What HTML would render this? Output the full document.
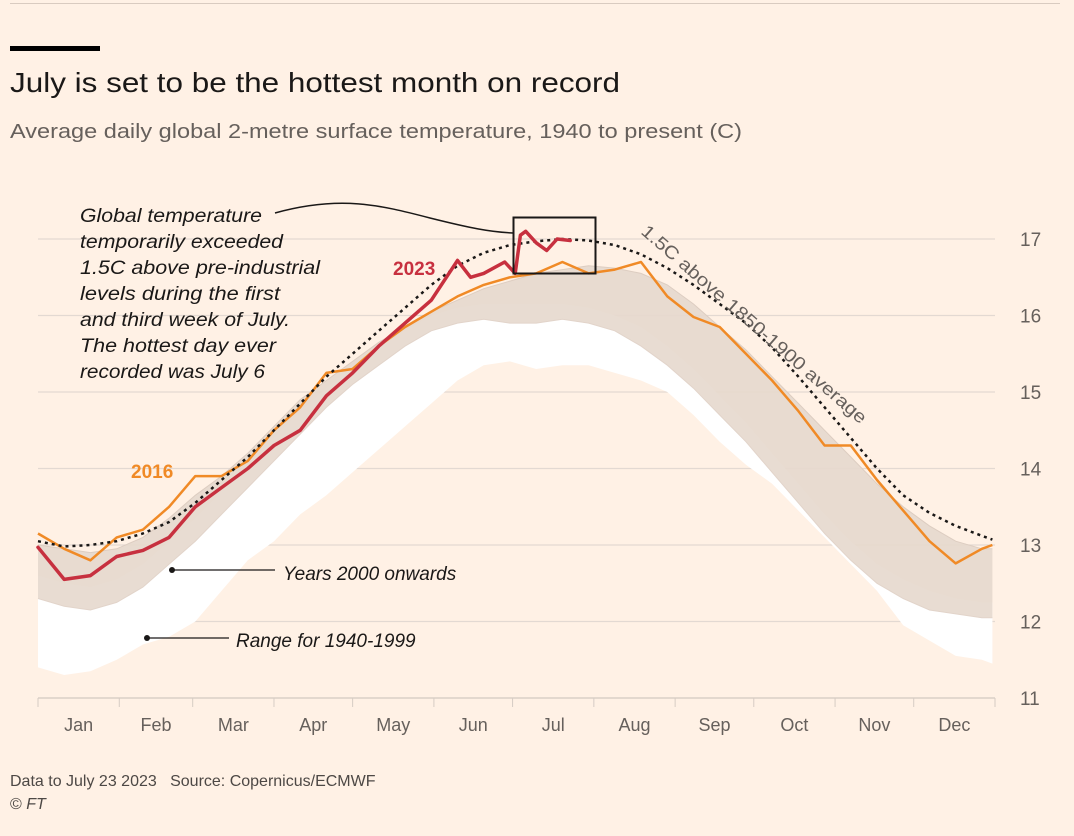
<!DOCTYPE html>
<html><head><meta charset="utf-8"><style>
html,body{margin:0;padding:0;background:#fff1e5;}
svg{display:block;font-family:"Liberation Sans",sans-serif;}
</style></head><body>
<svg width="1074" height="836" viewBox="0 0 1074 836" xmlns="http://www.w3.org/2000/svg">
<rect width="1074" height="836" fill="#fff1e5"/>
<line x1="10" y1="3.5" x2="1060" y2="3.5" stroke="#d9cbc0" stroke-width="1"/>
<rect x="10" y="46" width="90" height="5" fill="#000"/>
<text x="10" y="92" font-size="28" fill="#1a1817" textLength="610" lengthAdjust="spacingAndGlyphs">July is set to be the hottest month on record</text>
<text x="10" y="138" font-size="20" fill="#66605c" textLength="732" lengthAdjust="spacingAndGlyphs">Average daily global 2-metre surface temperature, 1940 to present (C)</text>
<g id="plot"></g>
<g font-style="italic" font-size="19" fill="#1a1817">
<text x="80" y="222" textLength="182" lengthAdjust="spacingAndGlyphs">Global temperature</text>
<text x="80" y="248" textLength="203" lengthAdjust="spacingAndGlyphs">temporarily exceeded</text>
<text x="80" y="274" textLength="240" lengthAdjust="spacingAndGlyphs">1.5C above pre-industrial</text>
<text x="80" y="300" textLength="200" lengthAdjust="spacingAndGlyphs">levels during the first</text>
<text x="80" y="326" textLength="210" lengthAdjust="spacingAndGlyphs">and third week of July.</text>
<text x="80" y="352" textLength="196" lengthAdjust="spacingAndGlyphs">The hottest day ever</text>
<text x="80" y="378" textLength="185" lengthAdjust="spacingAndGlyphs">recorded was July 6</text>
</g>
<path d="M275,213 C340,195 380,205 430,218 C470,228 490,232 513,233" fill="none" stroke="#1a1817" stroke-width="1.5"/>
<rect x="513.5" y="217.5" width="82" height="56" fill="none" stroke="#1a1817" stroke-width="2"/>
<text x="393" y="275" font-size="19" font-weight="bold" fill="#c7303f">2023</text>
<text x="131" y="478" font-size="19" font-weight="bold" fill="#f08a26">2016</text>
<circle cx="172" cy="570" r="3" fill="#1a1817"/>
<line x1="172" y1="570" x2="275" y2="570" stroke="#1a1817" stroke-width="1.3"/>
<text x="283" y="580" font-size="19" font-style="italic" fill="#1a1817">Years 2000 onwards</text>
<circle cx="147" cy="638" r="3" fill="#1a1817"/>
<line x1="147" y1="638" x2="229" y2="638" stroke="#1a1817" stroke-width="1.3"/>
<text x="236" y="647" font-size="19" font-style="italic" fill="#1a1817">Range for 1940-1999</text>
<text transform="translate(640,233) rotate(41)" font-size="18" fill="#66605c" textLength="292" lengthAdjust="spacingAndGlyphs">1.5C above 1850-1900 average</text>
<text x="10" y="786" font-size="16" fill="#4d4845" xml:space="preserve">Data to July 23 2023   Source: Copernicus/ECMWF</text>
<text x="10" y="809" font-size="16" fill="#4d4845">© <tspan font-style="italic">FT</tspan></text>
</svg>
<script>
const days=[0,10,20,30,40,50,60,70,80,90,100,110,120,130,140,150,160,170,180,190,200,210,220,230,240,250,260,270,280,290,300,310,320,330,340,350,360,364];
const rangeMin=[11.4,11.3,11.35,11.5,11.7,11.8,12.0,12.4,12.8,13.05,13.4,13.65,13.95,14.25,14.55,14.85,15.15,15.35,15.4,15.3,15.35,15.35,15.25,15.15,15.0,14.7,14.35,14.05,13.8,13.45,13.1,12.75,12.4,11.95,11.75,11.55,11.5,11.45];
const rangeMax=[12.6,12.5,12.45,12.55,12.75,13.05,13.35,13.7,14.05,14.4,14.75,15.05,15.35,15.6,15.8,16.0,16.1,16.15,16.15,16.15,16.15,16.1,16.0,15.85,15.6,15.3,14.95,14.6,14.2,13.8,13.4,13.05,12.75,12.55,12.4,12.3,12.25,12.25];
const band2000Upper=[13.0,12.95,12.9,12.95,13.1,13.35,13.65,13.9,14.2,14.55,14.9,15.15,15.4,15.65,15.85,16.05,16.2,16.35,16.45,16.55,16.6,16.65,16.62,16.55,16.4,16.15,15.85,15.55,15.2,14.85,14.5,14.15,13.8,13.5,13.25,13.05,12.95,12.95];
const band2000Lower=[12.3,12.2,12.15,12.25,12.45,12.75,13.05,13.4,13.75,14.1,14.45,14.8,15.1,15.35,15.6,15.8,15.9,15.95,15.9,15.9,15.95,15.9,15.8,15.6,15.35,15.05,14.7,14.35,13.95,13.55,13.15,12.8,12.5,12.3,12.15,12.1,12.05,12.05];
const series2016=[13.15,12.95,12.8,13.1,13.2,13.5,13.9,13.9,14.1,14.5,14.8,15.25,15.3,15.6,15.85,16.05,16.25,16.4,16.5,16.55,16.7,16.55,16.6,16.7,16.25,15.98,15.85,15.5,15.15,14.75,14.3,14.3,13.85,13.45,13.05,12.76,12.95,13.0];
const days2023=[0,10,20,30,40,50,60,70,80,90,100,110,120,130,140,150,160,165,170,178,182,184,186,190,194,198,203];
const series2023=[12.97,12.55,12.6,12.85,12.93,13.1,13.5,13.75,14.0,14.3,14.5,14.95,15.25,15.6,15.9,16.2,16.72,16.5,16.55,16.7,16.55,17.05,17.1,16.95,16.85,17.0,16.98];
const avg15=[13.05,12.98,13.0,13.05,13.15,13.3,13.55,13.85,14.15,14.5,14.85,15.2,15.5,15.8,16.1,16.4,16.65,16.82,16.92,16.97,17.0,16.98,16.92,16.8,16.62,16.4,16.15,15.9,15.58,15.2,14.8,14.4,14.0,13.65,13.42,13.25,13.12,13.07];
const yTicks=[11,12,13,14,15,16,17];
const months=["Jan","Feb","Mar","Apr","May","Jun","Jul","Aug","Sep","Oct","Nov","Dec"];
const monthStarts=[0,31,59,90,120,151,181,212,243,273,304,334,365];

const X0=38,X1=995,Y17=239,Y11=698;
const xs=d=>X0+d*(X1-X0)/365;
const ys=t=>Y11-(t-11)*(Y11-Y17)/6;
const NS="http://www.w3.org/2000/svg";
const plot=document.getElementById('plot');
function mk(tag,attrs){const e=document.createElementNS(NS,tag);for(const k in attrs)e.setAttribute(k,attrs[k]);plot.appendChild(e);return e;}
function linePath(ds,vs){return vs.map((v,i)=>(i?'L':'M')+xs(ds[i]).toFixed(1)+','+ys(v).toFixed(1)).join('');}
function areaPath(ds,lo,hi){let p=hi.map((v,i)=>(i?'L':'M')+xs(ds[i]).toFixed(1)+','+ys(v).toFixed(1)).join('');for(let i=lo.length-1;i>=0;i--)p+='L'+xs(ds[i]).toFixed(1)+','+ys(lo[i]).toFixed(1);return p+'Z';}

yTicks.forEach(t=>{
 const g=mk('line',{x1:X0,x2:X1,y1:ys(t),y2:ys(t),stroke:'#e3d9d2','stroke-width':1.2});
 
 
 const l=mk('text',{x:1020,y:ys(t)+7,'font-size':19,fill:'#66605c'});
 l.textContent=t;
 
 
});
const ax=mk('line',{x1:X0,x2:X1,y1:Y11,y2:Y11,stroke:'#d6ccc4','stroke-width':1.2});


monthStarts.forEach(d=>{
 const t=mk('line',{x1:xs(d),x2:xs(d),y1:Y11,y2:Y11+9,stroke:'#d6ccc4','stroke-width':1});
 
 
});
months.forEach((m,i)=>{
 const l=mk('text',{x:(xs(monthStarts[i])+xs(monthStarts[i+1]))/2,y:731,'font-size':18,fill:'#66605c','text-anchor':'middle'});
 l.textContent=m;
 
 
});
const r=mk('path',{d:areaPath(days,rangeMin,rangeMax),fill:'#ffffff'});


const b=mk('path',{d:areaPath(days,band2000Lower,band2000Upper),fill:'#e6d8cd',opacity:0.9});


const bu=mk('path',{d:linePath(days,band2000Upper),fill:'none',stroke:'#ddcdc1','stroke-width':1});


const bl=mk('path',{d:linePath(days,band2000Lower),fill:'none',stroke:'#e2d4ca','stroke-width':1});


const s16=mk('path',{d:linePath(days,series2016),fill:'none',stroke:'#f08a26','stroke-width':2.5,'stroke-linejoin':'round'});


const av=mk('path',{d:linePath(days,avg15),fill:'none',stroke:'#1a1817','stroke-width':2.5,'stroke-dasharray':'3 4'});


const s23=mk('path',{d:linePath(days2023,series2023),fill:'none',stroke:'#c7303f','stroke-width':3.5,'stroke-linejoin':'round','stroke-linecap':'round'});


</script>
</body></html>
